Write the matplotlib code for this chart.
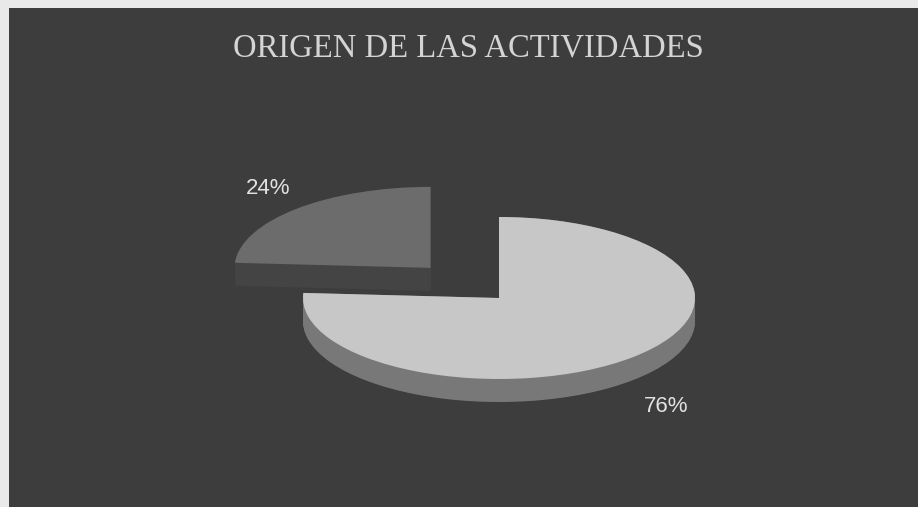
import numpy as np
import matplotlib
matplotlib.use("Agg")
import matplotlib.pyplot as plt
from matplotlib.patches import Rectangle

# Data
title = "ORIGEN DE LAS ACTIVIDADES"
categories = ["Externas", "Internas"]
values = [24, 76]
labels = ["24%", "76%"]

# Styles
top_colors = ["#6c6c6c", "#c7c7c7"]
side_colors = ["#444444", "#787878"]
bg_color = "#3d3d3d"
explode = [0.51, 0.0]

W, H = 918, 507
fig = plt.figure(figsize=(W / 100, H / 100), dpi=100)
fig.patch.set_facecolor("#e9e9e9")

# dark panel
bg = fig.add_axes([0, 0, 1, 1])
bg.set_xlim(0, W)
bg.set_ylim(H, 0)
bg.axis("off")
bg.add_patch(Rectangle((9, 8), W - 9, H - 8, facecolor=bg_color, edgecolor="none"))

bg.text(468, 48, title, ha="center", va="center", color="#d4d4d4",
        fontsize=23.5, family="Liberation Serif")

# pie axes: unit circle mapped to ellipse centred at (cx, cy) px
cx, cy, rx, ry = 499, 298, 196, 81
ax = fig.add_axes([(cx - rx) / W, 1 - (cy + ry) / H, 2 * rx / W, 2 * ry / H])
ax.axis("off")

depth = 23 / ry
for d in np.linspace(depth, 0.0, 40):
    wedges, _ = ax.pie(values, startangle=90, counterclock=True, explode=explode,
                       colors=side_colors, center=(0, -d),
                       wedgeprops=dict(linewidth=0))
    for w in wedges:
        w.set_clip_on(False)
wedges, _ = ax.pie(values, startangle=90, counterclock=True, explode=explode,
                   colors=top_colors, center=(0, 0),
                   wedgeprops=dict(linewidth=0))
for w in wedges:
    w.set_clip_on(False)
ax.set_aspect("auto")
ax.set_xlim(-1, 1)
ax.set_ylim(-1, 1)

# labels
label_pos = [(268, 188), (666, 407)]
for lab, (px, py) in zip(labels, label_pos):
    bg.text(px, py, lab, ha="center", va="center", color="#e2e2e2", fontsize=16,
            family="Liberation Sans")

fig.savefig("out.png", dpi=100, facecolor=fig.get_facecolor())
